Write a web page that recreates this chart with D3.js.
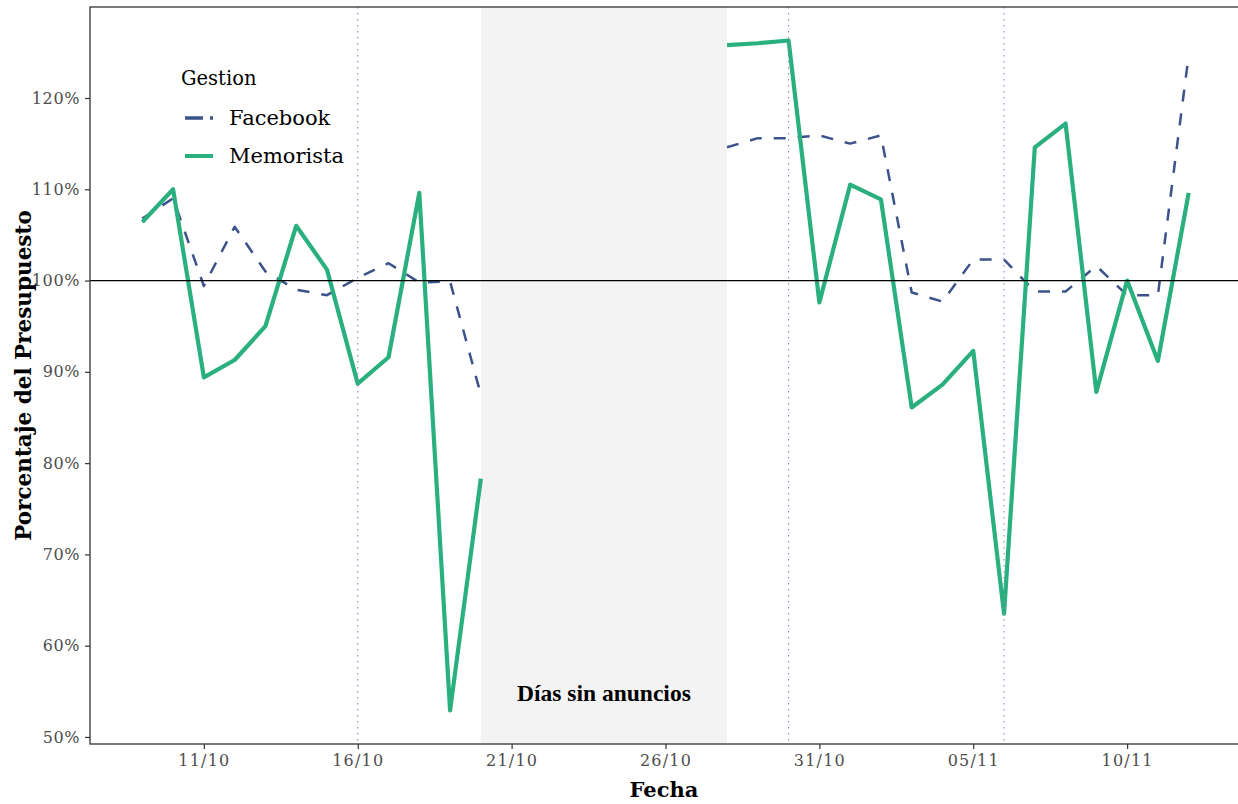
<!DOCTYPE html>
<html>
<head>
<meta charset="utf-8">
<script src="https://cdn.jsdelivr.net/npm/d3@7"></script>
<style>
  html, body { margin: 0; padding: 0; background: #ffffff; }
  svg { display: block; }
</style>
</head>
<body>
<svg id="chart" width="1238" height="804"></svg>
<script>
// Daily budget usage (% of budget) for the two management approaches
const dates = [
  "2021-10-09", "2021-10-10", "2021-10-11", "2021-10-12", "2021-10-13", "2021-10-14",
  "2021-10-15", "2021-10-16", "2021-10-17", "2021-10-18", "2021-10-19", "2021-10-20",
  "2021-10-28", "2021-10-29", "2021-10-30", "2021-10-31", "2021-11-01", "2021-11-02",
  "2021-11-03", "2021-11-04", "2021-11-05", "2021-11-06", "2021-11-07", "2021-11-08",
  "2021-11-09", "2021-11-10", "2021-11-11", "2021-11-12"
];
const facebook = [
  106.8, 109.0, 99.4, 105.9, 101.0, 99.0, 98.4, 100.3, 101.9, 99.8, 99.9, 87.5,
  114.6, 115.6, 115.6, 115.9, 115.0, 115.9, 98.7, 97.7, 102.3, 102.3, 98.8, 98.8,
  101.6, 98.4, 98.4, 124.7
];
const memorista = [
  106.4, 110.0, 89.4, 91.3, 95.0, 106.0, 101.2, 88.7, 91.6, 109.6, 52.9, 78.3,
  125.8, 126.0, 126.3, 97.6, 110.5, 108.9, 86.1, 88.6, 92.3, 63.5, 114.6, 117.2,
  87.8, 100.0, 91.2, 109.6
];
const seriesNames = ["Facebook", "Memorista"];
const xTicks = ["2021-10-11", "2021-10-16", "2021-10-21", "2021-10-26", "2021-10-31", "2021-11-05", "2021-11-10"];
const yTicks = [50, 60, 70, 80, 90, 100, 110, 120];
const markerDates = ["2021-10-16", "2021-10-30", "2021-11-06"];
const noAdsSpan = ["2021-10-20", "2021-10-28"];
const noAdsLabel = "Días sin anuncios";

const parse = d3.utcParse("%Y-%m-%d");
const fmtTick = d3.utcFormat("%d/%m");
const DAY = 864e5;

const svg = d3.select("#chart");
const panel = { left: 90, right: 1241, top: 7, bottom: 744 };

// Scales with a 5% padding on each side of the data range
const tDates = dates.map(parse);
const [t0, t1] = d3.extent(tDates);
const tPad = (t1 - t0) * 0.05;
const x = d3.scaleUtc()
  .domain([new Date(+t0 - tPad), new Date(+t1 + tPad)])
  .range([panel.left, panel.right]);

const allVals = facebook.concat(memorista);
const [v0, v1] = d3.extent(allVals);
const vPad = (v1 - v0) * 0.05;
const y = d3.scaleLinear()
  .domain([v0 - vPad, v1 + vPad])
  .range([panel.bottom, panel.top]);

const colors = { Facebook: "#3b528b", Memorista: "#2ab07f" };

// Shaded period without ads
svg.append("rect")
  .attr("x", x(parse(noAdsSpan[0])))
  .attr("y", panel.top)
  .attr("width", x(parse(noAdsSpan[1])) - x(parse(noAdsSpan[0])))
  .attr("height", panel.bottom - panel.top)
  .attr("fill", "#f3f3f3");

svg.append("text")
  .attr("x", (x(parse(noAdsSpan[0])) + x(parse(noAdsSpan[1]))) / 2)
  .attr("y", 701)
  .attr("text-anchor", "middle")
  .attr("font-family", "Liberation Serif, serif")
  .attr("font-weight", "bold")
  .attr("font-size", 23.5)
  .attr("fill", "#000")
  .text(noAdsLabel);

// Split the series into runs of consecutive days
function runs(values) {
  const out = [];
  let cur = [];
  tDates.forEach((d, i) => {
    if (cur.length && (d - cur[cur.length - 1].date) > DAY * 1.5) {
      out.push(cur);
      cur = [];
    }
    cur.push({ date: d, value: values[i] });
  });
  if (cur.length) out.push(cur);
  return out;
}

const line = d3.line()
  .x(d => x(d.date))
  .y(d => y(d.value));

const gLines = svg.append("g");
runs(facebook).forEach(seg => {
  gLines.append("path")
    .attr("d", line(seg))
    .attr("fill", "none")
    .attr("stroke", colors.Facebook)
    .attr("stroke-width", 2.5)
    .attr("stroke-dasharray", "12,12")
    .attr("stroke-linejoin", "round");
});
runs(memorista).forEach(seg => {
  gLines.append("path")
    .attr("d", line(seg))
    .attr("fill", "none")
    .attr("stroke", colors.Memorista)
    .attr("stroke-width", 4.2)
    .attr("stroke-linejoin", "round");
});

// Dotted reference days
svg.append("g").selectAll("line")
  .data(markerDates)
  .join("line")
  .attr("x1", d => x(parse(d)))
  .attr("x2", d => x(parse(d)))
  .attr("y1", panel.top)
  .attr("y2", panel.bottom)
  .attr("stroke", "#9484bd")
  .attr("stroke-width", 1.1)
  .attr("stroke-dasharray", "1.5,4.5");

// 100% reference line
svg.append("line")
  .attr("x1", panel.left)
  .attr("x2", panel.right)
  .attr("y1", y(100))
  .attr("y2", y(100))
  .attr("stroke", "#000")
  .attr("stroke-width", 1.2);

// Panel border
svg.append("rect")
  .attr("x", panel.left)
  .attr("y", panel.top)
  .attr("width", panel.right - panel.left)
  .attr("height", panel.bottom - panel.top)
  .attr("fill", "none")
  .attr("stroke", "#333333")
  .attr("stroke-width", 1.3);

// Axes
const xAxis = d3.axisBottom(x)
  .tickValues(xTicks.map(parse))
  .tickFormat(fmtTick)
  .tickSize(5)
  .tickPadding(6);
const gx = svg.append("g")
  .attr("transform", `translate(0,${panel.bottom})`)
  .call(xAxis);
gx.select(".domain").remove();
gx.selectAll(".tick line").attr("stroke", "#333333").attr("stroke-width", 1.2);
gx.selectAll(".tick text")
  .attr("font-family", "DejaVu Serif, serif")
  .attr("font-size", 16)
  .attr("letter-spacing", 1.2)
  .attr("fill", "#4d4d4d");

const yAxis = d3.axisLeft(y)
  .tickValues(yTicks)
  .tickFormat(d => d + "%")
  .tickSize(5)
  .tickPadding(5);
const gy = svg.append("g")
  .attr("transform", `translate(${panel.left},0)`)
  .call(yAxis);
gy.select(".domain").remove();
gy.selectAll(".tick line").attr("stroke", "#333333").attr("stroke-width", 1.2);
gy.selectAll(".tick text")
  .attr("font-family", "DejaVu Serif, serif")
  .attr("font-size", 16)
  .attr("letter-spacing", 0.6)
  .attr("fill", "#4d4d4d");

// Axis titles
svg.append("text")
  .attr("x", (panel.left + 1238) / 2)
  .attr("y", 797)
  .attr("text-anchor", "middle")
  .attr("font-family", "DejaVu Serif, serif")
  .attr("font-weight", "bold")
  .attr("font-size", 21)
  .attr("fill", "#000")
  .text("Fecha");

svg.append("text")
  .attr("transform", `translate(31,${(panel.top + panel.bottom) / 2}) rotate(-90)`)
  .attr("text-anchor", "middle")
  .attr("font-family", "DejaVu Serif, serif")
  .attr("font-weight", "bold")
  .attr("font-size", 21.5)
  .attr("fill", "#000")
  .text("Porcentaje del Presupuesto");

// Legend
const legend = svg.append("g");
legend.append("text")
  .attr("x", 181)
  .attr("y", 85)
  .attr("font-family", "DejaVu Serif, serif")
  .attr("font-size", 19.5)
  .attr("fill", "#000")
  .text("Gestion");

seriesNames.forEach((name, i) => {
  const ly = 118 + i * 38;
  legend.append("line")
    .attr("x1", 185).attr("x2", 213)
    .attr("y1", ly).attr("y2", ly)
    .attr("stroke", colors[name])
    .attr("stroke-width", name === "Facebook" ? 3.5 : 4)
    .attr("stroke-dasharray", name === "Facebook" ? "18,7" : null);
  legend.append("text")
    .attr("x", 229)
    .attr("y", ly + 7)
    .attr("font-family", "DejaVu Serif, serif")
    .attr("font-size", 21)
    .attr("fill", "#000")
    .text(name);
});
</script>
</body>
</html>
